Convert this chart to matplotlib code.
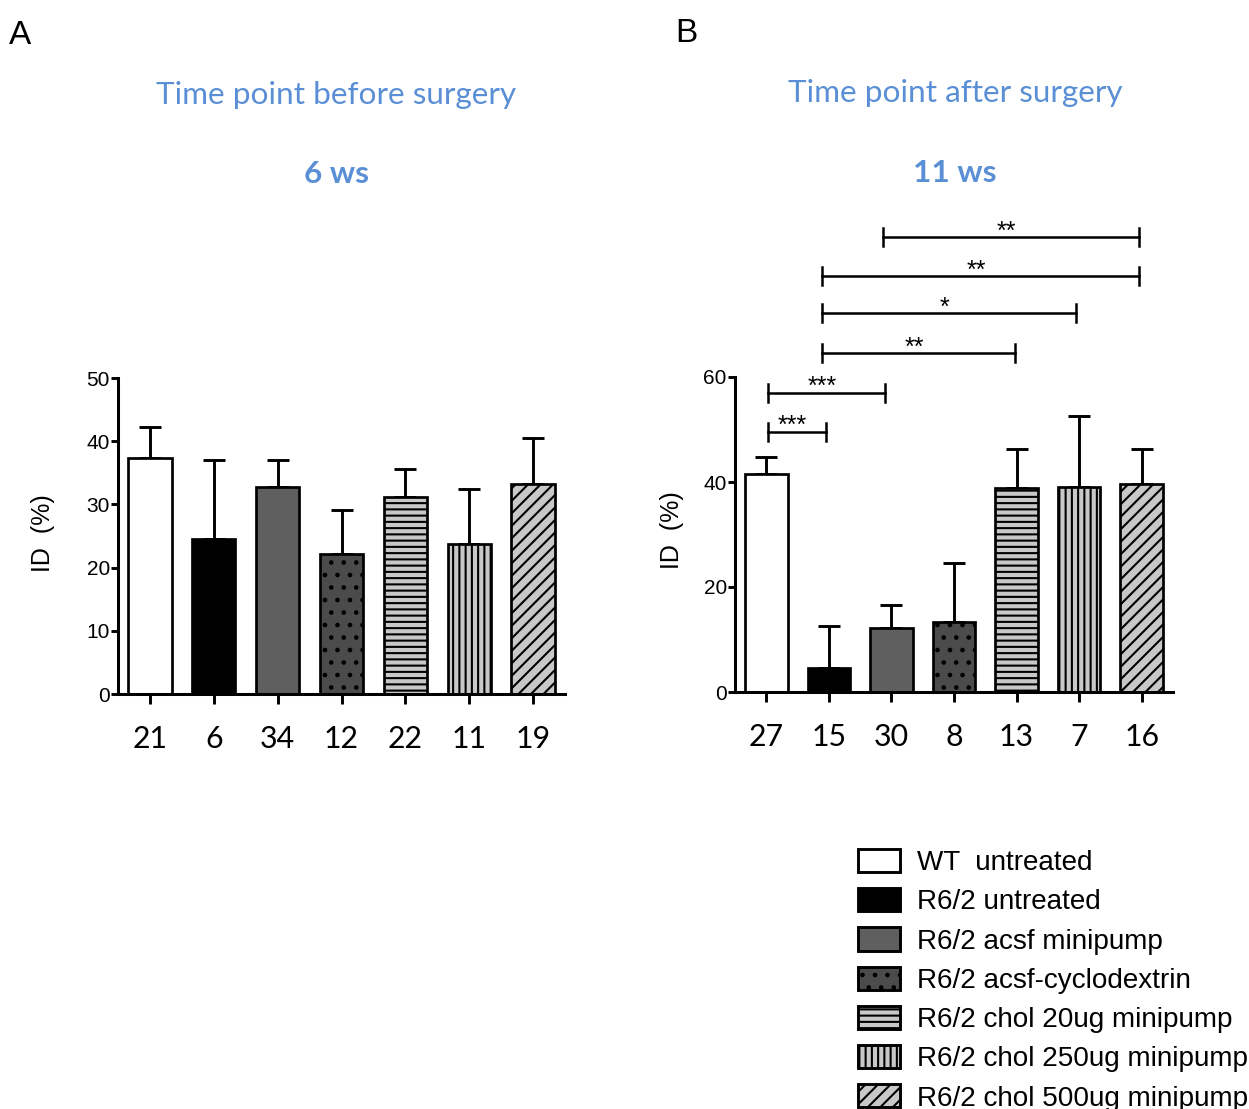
import matplotlib
matplotlib.use("Agg")
import matplotlib.pyplot as plt
from matplotlib.patches import Patch
import numpy as np

# ---------------- data ----------------
groups = ["WT  untreated", "R6/2 untreated", "R6/2 acsf minipump",
          "R6/2 acsf-cyclodextrin", "R6/2 chol 20ug minipump",
          "R6/2 chol 250ug minipump", "R6/2 chol 500ug minipump"]

n_before = ["21", "6", "34", "12", "22", "11", "19"]
mean_before = [37.4, 24.6, 32.8, 22.1, 31.1, 23.7, 33.3]
top_before = [42.2, 37.1, 37.1, 29.1, 35.6, 32.4, 40.5]

n_after = ["27", "15", "30", "8", "13", "7", "16"]
mean_after = [41.6, 4.6, 12.1, 13.4, 38.8, 39.0, 39.7]
top_after = [44.7, 12.6, 16.6, 24.6, 46.3, 52.6, 46.2]

yticks_before = [0, 10, 20, 30, 40, 50]
yticks_after = [0, 20, 40, 60]

# significance brackets (panel B)
brk_x0 = [0.03, 0.03, 0.89, 0.89, 0.89, 1.87]
brk_x1 = [0.95, 1.90, 3.98, 4.95, 5.95, 5.95]
brk_y = [49.6, 57.0, 64.6, 72.2, 79.2, 86.6]
brk_lab = ["***", "***", "**", "*", "**", "**"]

# ---------------- styles ----------------
fills = ["white", "black", "#5f5f5f", "#4b4b4b", "#c8c8c8", "#c8c8c8", "#c8c8c8"]
hatches = [None, None, None, "..", "----", "||||", "////"]

DPI = 150
plt.rcParams["hatch.linewidth"] = 1.0
plt.rcParams["font.family"] = ["Liberation Sans", "DejaVu Sans"]

fig = plt.figure(figsize=(1249 / DPI, 1109 / DPI), dpi=DPI)

title_blue = "#5a8fd6"
title_font = "Lato"


def panel(rect, means, tops, ns, yticks, ymax):
    ax = fig.add_axes(rect)
    x = np.arange(len(means))
    ax.bar(x, means, width=0.68, color=fills, edgecolor="black",
           linewidth=1.3, hatch=hatches, zorder=2)
    up = np.array(tops) - np.array(means)
    ax.errorbar(x, means, yerr=[np.zeros(len(means)), up], fmt="none",
                ecolor="black", elinewidth=1.4, capsize=5.3, capthick=1.4,
                zorder=1)
    ax.set_xlim(-0.5, len(means) - 0.5)
    ax.set_ylim(0, ymax)
    ax.set_yticks(yticks)
    ax.set_xticks(x)
    ax.set_xticklabels(ns, fontsize=14.5, family=title_font)
    for s in ["top", "right"]:
        ax.spines[s].set_visible(False)
    for s in ["left", "bottom"]:
        ax.spines[s].set_linewidth(1.45)
    ax.tick_params(axis="y", length=3.4, width=1.4, labelsize=10, pad=0.5)
    ax.tick_params(axis="x", length=5, width=1.4, pad=10)
    ax.patch.set_alpha(0)
    return ax


axA = panel([118 / 1249, 1 - 694 / 1109, 447 / 1249, 316 / 1109],
            mean_before, top_before, n_before, yticks_before, 50)
axB = panel([735 / 1249, 1 - 692 / 1109, 438 / 1249, 315 / 1109],
            mean_after, top_after, n_after, yticks_after, 60)

# brackets
tick_h = 1.7
for x0, x1, y, lab in zip(brk_x0, brk_x1, brk_y, brk_lab):
    axB.plot([x0, x1], [y, y], color="black", lw=1.2, clip_on=False)
    axB.plot([x0, x0], [y - tick_h, y + tick_h], color="black", lw=1.2, clip_on=False)
    axB.plot([x1, x1], [y - tick_h, y + tick_h], color="black", lw=1.2, clip_on=False)
    axB.text((x0 + x1) / 2 - 0.07, y - 0.3, lab, ha="center", va="baseline",
             fontsize=12, clip_on=False)

# y labels
fig.text(43 / 1249, 1 - 533 / 1109, "ID  (%)", rotation=90, ha="center",
         va="center", fontsize=12)
fig.text(672 / 1249, 1 - 530 / 1109, "ID  (%)", rotation=90, ha="center",
         va="center", fontsize=12)

# titles
fig.text(336 / 1249, 1 - 95 / 1109, "Time point before surgery", ha="center",
         va="center", fontsize=15.1, color=title_blue, family=title_font)
fig.text(336 / 1249, 1 - 174 / 1109, "6 ws", ha="center", va="center",
         fontsize=15.1, color=title_blue, family=title_font, weight="bold")
fig.text(955 / 1249, 1 - 93 / 1109, "Time point after surgery", ha="center",
         va="center", fontsize=15.1, color=title_blue, family=title_font)
fig.text(955 / 1249, 1 - 173 / 1109, "11 ws", ha="center", va="center",
         fontsize=15.1, color=title_blue, family=title_font, weight="bold")

# panel letters
fig.text(9 / 1249, 1 - 35 / 1109, "A", ha="left", va="center", fontsize=16)
fig.text(675 / 1249, 1 - 33 / 1109, "B", ha="left", va="center", fontsize=16)

# legend
handles = [Patch(facecolor=f, edgecolor="black", hatch=h, linewidth=1.4)
           for f, h in zip(fills, hatches)]
fig.legend(handles, groups, loc="upper left",
           bbox_to_anchor=(858 / 1249, 1 - 849 / 1109), frameon=False,
           fontsize=13.4, handlelength=1.5, handleheight=0.9,
           handletextpad=0.6, labelspacing=0.43, borderpad=0, borderaxespad=0)

fig.savefig("out.png", dpi=DPI)
